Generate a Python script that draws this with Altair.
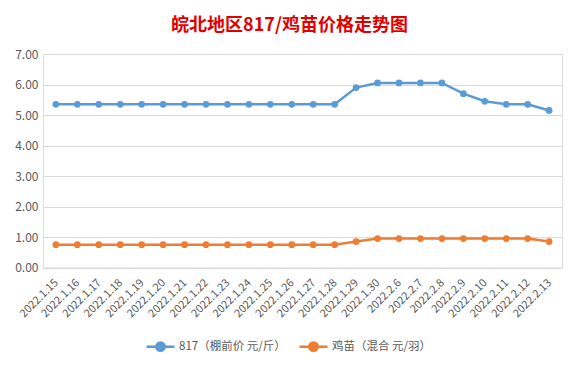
import altair as alt
import pandas as pd

dates = ["2022.1.15", "2022.1.16", "2022.1.17", "2022.1.18", "2022.1.19", "2022.1.20",
         "2022.1.21", "2022.1.22", "2022.1.23", "2022.1.24", "2022.1.25", "2022.1.26",
         "2022.1.27", "2022.1.28", "2022.1.29", "2022.1.30", "2022.2.6", "2022.2.7",
         "2022.2.8", "2022.2.9", "2022.2.10", "2022.2.11", "2022.2.12", "2022.2.13"]
price_817 = [5.35, 5.35, 5.35, 5.35, 5.35, 5.35, 5.35, 5.35, 5.35, 5.35, 5.35, 5.35,
             5.35, 5.35, 5.90, 6.05, 6.05, 6.05, 6.05, 5.70, 5.45, 5.35, 5.35, 5.15]
price_chick = [0.75, 0.75, 0.75, 0.75, 0.75, 0.75, 0.75, 0.75, 0.75, 0.75, 0.75, 0.75,
               0.75, 0.75, 0.85, 0.95, 0.95, 0.95, 0.95, 0.95, 0.95, 0.95, 0.95, 0.85]
series = ["817（棚前价 元/斤）", "鸡苗（混合 元/羽）"]
colors = ["#5B9BD5", "#ED7D31"]
title = "皖北地区817/鸡苗价格走势图"

rows = []
for d, v in zip(dates, price_817):
    rows.append({"date": d, "value": v, "series": series[0]})
for d, v in zip(dates, price_chick):
    rows.append({"date": d, "value": v, "series": series[1]})
df = pd.DataFrame(rows)

FONT = "Noto Sans CJK SC"

chart = alt.Chart(df).mark_line(
    strokeWidth=2.5,
    point=alt.OverlayMarkDef(filled=True, size=45, opacity=1),
).encode(
    x=alt.X("date:N", sort=dates, title=None,
            scale=alt.Scale(type="point", padding=0.6),
            axis=alt.Axis(labelAngle=-45, labelFontSize=11, labelColor="#595959",
                          labelFont=FONT, domain=False, ticks=False, labelPadding=9,
                          labelOffset=-4, grid=False)),
    y=alt.Y("value:Q", title=None,
            scale=alt.Scale(domain=[0, 7], nice=False),
            axis=alt.Axis(values=[0, 1, 2, 3, 4, 5, 6, 7], format=".2f",
                          labelFontSize=12, labelColor="#595959", labelFont=FONT,
                          domain=False, ticks=False, labelPadding=5,
                          gridColor="#d9d9d9", gridWidth=1)),
    color=alt.Color("series:N", sort=series, title=None,
                    scale=alt.Scale(domain=series, range=colors),
                    legend=alt.Legend(
                        orient="none", direction="horizontal", legendX=102, legendY=277,
                        symbolType="M-1,0L1,0M0.3,0A0.3,0.3,0,1,1,-0.3,0A0.3,0.3,0,1,1,0.3,0Z",
                        symbolSize=784, symbolStrokeWidth=2.5, labelFontSize=11.5,
                        labelColor="#595959", labelFont=FONT, labelOffset=3,
                        columnPadding=8)),
).properties(
    width=519,
    height=213.5,
    title=alt.TitleParams(title, fontSize=18, color="#E00000", font=FONT,
                          fontWeight="bold", anchor="middle", offset=13, dx=-13),
    autosize=alt.AutoSizeParams(type="none"),
    padding={"left": 35, "top": 46, "right": 9, "bottom": 91},
).configure_view(stroke=None).configure(background="white")

chart.save("out.html", embed_options={"renderer": "svg", "actions": False})
